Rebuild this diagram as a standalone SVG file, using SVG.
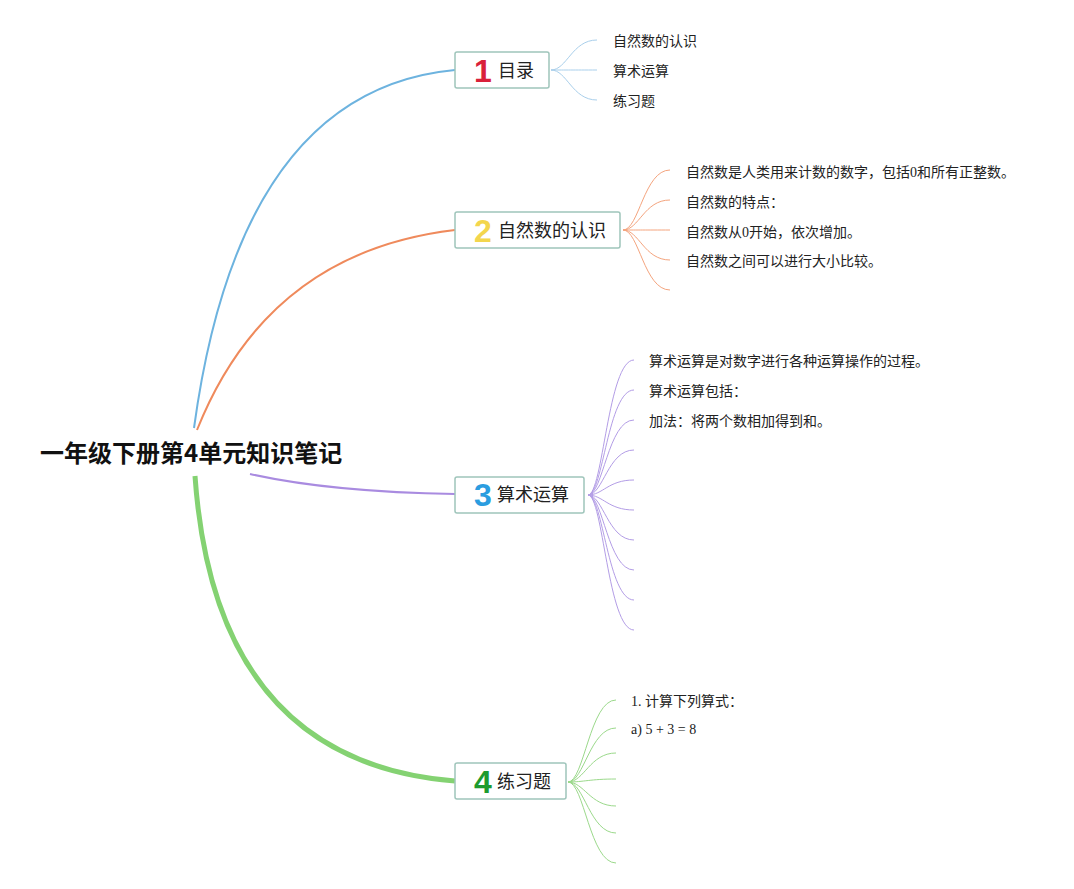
<svg xmlns="http://www.w3.org/2000/svg" width="1074" height="889" viewBox="0 0 1074 889">
<style>
.box{fill:#ffffff;stroke:#9fc5bb;stroke-width:1.5}
.num{font-family:"Liberation Sans","Noto Sans CJK SC",sans-serif;font-weight:bold;font-size:32px}
.lbl{font-family:"Noto Sans CJK SC",sans-serif;font-size:18px;fill:#222}
.txt{font-family:"Liberation Serif","Noto Sans CJK SC",sans-serif;font-size:14px;fill:#222}
.title{font-family:"Noto Sans CJK SC",sans-serif;font-weight:bold;font-size:24px;fill:#111}
.c1{fill:none;stroke:#a9cfeb;stroke-width:1}
.c2{fill:none;stroke:#f4a47e;stroke-width:1}
.c3{fill:none;stroke:#b39de6;stroke-width:1}
.c4{fill:none;stroke:#9bd98b;stroke-width:1}
</style>
<rect width="1074" height="889" fill="#ffffff"/>
<g id="connectors">
<path d="M194,428 Q240,90 455,70" fill="none" stroke="#6db3df" stroke-width="2"/>
<path d="M197,430 Q268,252 455,230" fill="none" stroke="#ef8a5c" stroke-width="2"/>
<path d="M250,474 Q330,492 455,494" fill="none" stroke="#a98be0" stroke-width="2"/>
<path d="M195,476 Q215,762 455,781" fill="none" stroke="#84d272" stroke-width="5"/>
<path class="c1" d="M551,70 C567,70 572,40 597,40"/>
<path class="c1" d="M551,70 C567,70 572,70 597,70"/>
<path class="c1" d="M551,70 C567,70 572,100 597,100"/>
<path class="c2" d="M623,230 C639,230 644,170 670,170"/>
<path class="c2" d="M623,230 C639,230 644,200 670,200"/>
<path class="c2" d="M623,230 C639,230 644,230 670,230"/>
<path class="c2" d="M623,230 C639,230 644,260 670,260"/>
<path class="c2" d="M623,230 C639,230 644,290 670,290"/>
<path class="c3" d="M588,495 C603,495 608,360 634,360"/>
<path class="c3" d="M588,495 C603,495 608,390 634,390"/>
<path class="c3" d="M588,495 C603,495 608,420 634,420"/>
<path class="c3" d="M588,495 C603,495 608,450 634,450"/>
<path class="c3" d="M588,495 C603,495 608,480 634,480"/>
<path class="c3" d="M588,495 C603,495 608,510 634,510"/>
<path class="c3" d="M588,495 C603,495 608,540 634,540"/>
<path class="c3" d="M588,495 C603,495 608,570 634,570"/>
<path class="c3" d="M588,495 C603,495 608,600 634,600"/>
<path class="c3" d="M588,495 C603,495 608,630 634,630"/>
<path class="c4" d="M568,782 C584,782 590,700 616,700"/>
<path class="c4" d="M568,782 C584,782 590,728 616,728"/>
<path class="c4" d="M568,782 C584,782 590,753 616,753"/>
<path class="c4" d="M568,782 C584,782 590,779 616,779"/>
<path class="c4" d="M568,782 C584,782 590,806 616,806"/>
<path class="c4" d="M568,782 C584,782 590,833 616,833"/>
<path class="c4" d="M568,782 C584,782 590,863 616,863"/>
</g>
<g id="root">
<text class="title" x="40" y="462">一年级下册第4单元知识笔记</text>
</g>
<g id="node1">
<rect class="box" x="455" y="52" width="94" height="36" rx="2"/>
<text class="num" x="474" y="82" fill="#d9213a">1</text>
<text class="lbl" x="498" y="77">目录</text>
</g>
<g id="node1-items">
<text class="txt" x="613" y="46">自然数的认识</text>
<text class="txt" x="613" y="76">算术运算</text>
<text class="txt" x="613" y="106">练习题</text>
</g>
<g id="node2">
<rect class="box" x="455" y="212" width="165" height="36" rx="2"/>
<text class="num" x="474" y="242" fill="#f3d64e">2</text>
<text class="lbl" x="498" y="237">自然数的认识</text>
</g>
<g id="node2-items">
<text class="txt" x="686" y="177">自然数是人类用来计数的数字，包括0和所有正整数。</text>
<text class="txt" x="686" y="207">自然数的特点：</text>
<text class="txt" x="686" y="237">自然数从0开始，依次增加。</text>
<text class="txt" x="686" y="266">自然数之间可以进行大小比较。</text>
</g>
<g id="node3">
<rect class="box" x="455" y="477" width="129" height="36" rx="2"/>
<text class="num" x="474" y="506" fill="#2b9de0">3</text>
<text class="lbl" x="497" y="501">算术运算</text>
</g>
<g id="node3-items">
<text class="txt" x="649" y="366">算术运算是对数字进行各种运算操作的过程。</text>
<text class="txt" x="649" y="396">算术运算包括：</text>
<text class="txt" x="649" y="426">加法：将两个数相加得到和。</text>
</g>
<g id="node4">
<rect class="box" x="455" y="763" width="111" height="36" rx="2"/>
<text class="num" x="474" y="793" fill="#1e9b2e">4</text>
<text class="lbl" x="497" y="788">练习题</text>
</g>
<g id="node4-items">
<text class="txt" x="631" y="706">1. 计算下列算式：</text>
<text class="txt" x="631" y="734">a) 5 + 3 = 8</text>
</g>
</svg>
